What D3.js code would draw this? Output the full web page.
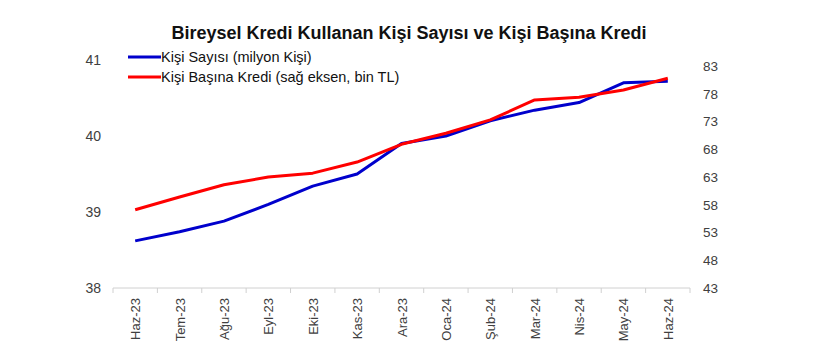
<!DOCTYPE html>
<html>
<head>
<meta charset="utf-8">
<script src="https://cdn.jsdelivr.net/npm/d3@7"></script>
<style>
  body { margin: 0; background: #fff; }
  svg { font-family: "Liberation Sans", Arial, sans-serif; }
</style>
</head>
<body>
<div id="chart"></div>
<script>
const months = ['Haz-23', 'Tem-23', 'Ağu-23', 'Eyl-23', 'Eki-23', 'Kas-23', 'Ara-23',
                'Oca-24', 'Şub-24', 'Mar-24', 'Nis-24', 'May-24', 'Haz-24']
const kisiSayisi = [38.62, 38.74, 38.88, 39.1, 39.34, 39.5, 39.9, 40.0, 40.2, 40.34, 40.44, 40.7, 40.72]
const kisiBasinaKredi = [57.1, 59.4, 61.6, 63.0, 63.7, 65.7, 68.9, 70.9, 73.3, 76.9, 77.4, 78.7, 80.8]
const leftTicks = [38, 39, 40, 41]
const rightTicks = [43, 48, 53, 58, 63, 68, 73, 78, 83]
const seriesNames = ['Kişi Sayısı (milyon Kişi)', 'Kişi Başına Kredi (sağ eksen, bin TL)']

const width = 820, height = 354
const plot = { left: 113, right: 690, top: 60, bottom: 288 }

const svg = d3.select('#chart').append('svg')
    .attr('width', width)
    .attr('height', height)

svg.append('text')
    .text('Bireysel Kredi Kullanan Kişi Sayısı ve Kişi Başına Kredi')
    .attr('x', 409)
    .attr('y', 39)
    .attr('text-anchor', 'middle')
    .style('font-size', '18px')
    .style('font-weight', 'bold')
    .attr('fill', '#111')

const x = d3.scaleBand()
    .domain(months)
    .range([plot.left, plot.right])

const yLeft = d3.scaleLinear()
    .domain([38, 41])
    .range([plot.bottom, plot.top])

const yRight = d3.scaleLinear()
    .domain([43, 84.1])
    .range([plot.bottom, plot.top])

// left axis labels
svg.append('g')
    .attr('transform', `translate(${plot.left - 12}, 0)`)
    .call(d3.axisLeft(yLeft).tickValues(leftTicks).tickFormat(d3.format('d')).tickSize(0).tickPadding(0))
    .call(g => g.select('.domain').remove())
    .call(g => g.selectAll('text').attr('fill', '#404040').style('font-size', '14px')
        .attr('font-family', '"Liberation Sans", Arial, sans-serif'))

// right axis labels
svg.append('g')
    .attr('transform', `translate(${plot.right + 13}, 0)`)
    .call(d3.axisRight(yRight).tickValues(rightTicks).tickSize(0).tickPadding(0))
    .call(g => g.select('.domain').remove())
    .call(g => g.selectAll('text').attr('fill', '#404040').style('font-size', '13.5px')
        .attr('font-family', '"Liberation Sans", Arial, sans-serif'))

// x axis line with ticks between categories
const xAxisG = svg.append('g')
    .attr('transform', `translate(0, ${plot.bottom})`)
xAxisG.append('line')
    .attr('x1', plot.left).attr('x2', plot.right)
    .attr('stroke', '#d0d0d0')
xAxisG.selectAll('line.tk')
    .data(months.concat(['end']))
    .enter()
    .append('line')
    .attr('class', 'tk')
    .attr('x1', (d, i) => plot.left + i * x.step())
    .attr('x2', (d, i) => plot.left + i * x.step())
    .attr('y1', 0).attr('y2', 5)
    .attr('stroke', '#d0d0d0')
xAxisG.selectAll('text')
    .data(months)
    .enter()
    .append('text')
    .text(d => d)
    .attr('transform', d => `translate(${x(d) + x.bandwidth() / 2 + 5}, 10) rotate(-90)`)
    .attr('text-anchor', 'end')
    .style('font-size', '13px')
    .attr('fill', '#404040')

const cx = d => x(d) + x.bandwidth() / 2

const lineLeft = d3.line()
    .x((d, i) => cx(months[i]))
    .y(d => yLeft(d))
const lineRight = d3.line()
    .x((d, i) => cx(months[i]))
    .y(d => yRight(d))

svg.append('path')
    .datum(kisiSayisi)
    .attr('d', lineLeft)
    .attr('fill', 'none')
    .attr('stroke', '#0000cc')
    .attr('stroke-width', 3)
    .attr('stroke-linejoin', 'round')

svg.append('path')
    .datum(kisiBasinaKredi)
    .attr('d', lineRight)
    .attr('fill', 'none')
    .attr('stroke', '#ff0000')
    .attr('stroke-width', 3)
    .attr('stroke-linejoin', 'round')

// legend
const legend = svg.append('g')
const legendColors = ['#0000cc', '#ff0000']
seriesNames.forEach((name, i) => {
    const ly = 57 + i * 20
    legend.append('line')
        .attr('x1', 128).attr('x2', 161)
        .attr('y1', ly).attr('y2', ly)
        .attr('stroke', legendColors[i])
        .attr('stroke-width', 3)
    legend.append('text')
        .text(name)
        .attr('x', 161)
        .attr('y', ly + 5)
        .style('font-size', '14.5px')
        .attr('fill', '#111')
})
</script>
</body>
</html>
